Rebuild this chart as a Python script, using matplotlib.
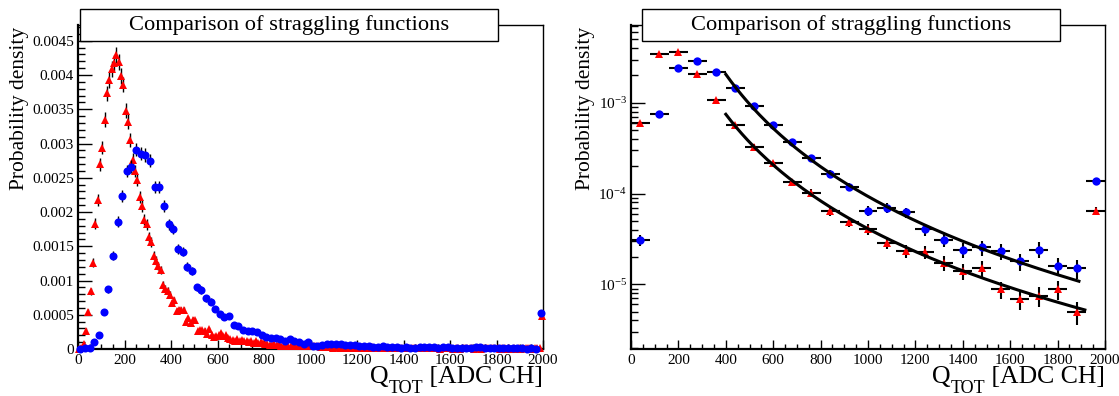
import matplotlib
matplotlib.use('Agg')
import matplotlib.pyplot as plt
import numpy as np
from matplotlib.patches import Rectangle
from matplotlib.ticker import MultipleLocator, FuncFormatter, LogLocator, NullFormatter

plt.rcParams['font.family'] = ['Liberation Serif', 'DejaVu Serif']
plt.rcParams['mathtext.fontset'] = 'custom'
plt.rcParams['mathtext.rm'] = 'Liberation Serif'
plt.rcParams['mathtext.it'] = 'Liberation Serif:italic'
plt.rcParams['mathtext.bf'] = 'Liberation Serif:bold'

# ---- fine binning: red 10 ADC bins, blue 20 ADC bins (density in units of 1e-4) ----
red_fine_centres = np.arange(5, 2000, 10)
red_fine_e4 = [
    0.0, 0.1, 0.7, 2.7, 5.4, 8.4, 12.6, 18.3,
    21.8, 27.0, 29.4, 33.5, 37.3, 39.3, 40.9, 41.8,
    42.9, 41.9, 39.9, 38.6, 34.8, 33.2, 30.5, 27.6,
    26.0, 24.7, 22.2, 20.9, 18.9, 18.2, 16.4, 15.6,
    13.6, 12.9, 12.1, 11.5, 9.4, 8.8, 8.5, 7.9,
    6.7, 7.1, 5.5, 5.7, 5.7, 5.7, 3.9, 4.5,
    3.8, 4.3, 4.2, 2.6, 2.8, 2.8, 2.7, 2.2,
    2.9, 2.0, 1.8, 1.9, 2.1, 2.3, 1.9, 2.0,
    1.6, 1.5, 1.3, 1.2, 1.4, 1.1, 1.3, 1.2,
    1.2, 1.0, 1.1, 0.9, 1.1, 0.9, 1.0, 0.9,
    0.7, 0.8, 0.6, 0.6, 0.7, 0.6, 0.6, 0.5,
    0.6, 0.5, 0.5, 0.4, 0.5, 0.5, 0.4, 0.5,
    0.5, 0.4, 0.4, 0.4, 0.4, 0.4, 0.4, 0.4,
    0.3, 0.3, 0.3, 0.3, 0.3, 0.2, 0.3, 0.3,
    0.2, 0.3, 0.2, 0.2, 0.3, 0.2, 0.2, 0.2,
    0.3, 0.2, 0.2, 0.3, 0.2, 0.2, 0.3, 0.2,
    0.2, 0.2, 0.1, 0.2, 0.2, 0.2, 0.1, 0.2,
    0.1, 0.2, 0.1, 0.2, 0.1, 0.1, 0.2, 0.1,
    0.2, 0.1, 0.2, 0.1, 0.2, 0.1, 0.2, 0.1,
    0.1, 0.1, 0.1, 0.0, 0.1, 0.1, 0.1, 0.1,
    0.1, 0.0, 0.1, 0.1, 0.0, 0.1, 0.1, 0.1,
    0.1, 0.1, 0.0, 0.1, 0.1, 0.0, 0.1, 0.1,
    0.1, 0.1, 0.1, 0.1, 0.1, 0.0, 0.1, 0.1,
    0.0, 0.1, 0.0, 0.1, 0.0, 0.1, 0.0, 0.1,
    0.1, 0.1, 0.1, 0.0, 0.1, 0.1, 0.1, 4.8,
]
blue_fine_centres = np.arange(10, 2000, 20)
blue_fine_e4 = [
    0.0, 0.1, 0.1, 1.0,
    2.1, 5.4, 8.7, 13.6,
    18.6, 22.3, 26.0, 26.6,
    29.1, 28.5, 28.3, 27.5,
    23.7, 23.6, 20.9, 18.2,
    17.5, 14.6, 14.2, 12.0,
    11.4, 9.0, 8.6, 7.4,
    6.9, 5.8, 5.1, 4.7,
    4.8, 3.5, 3.4, 2.8,
    2.6, 2.6, 2.5, 2.0,
    1.8, 1.6, 1.6, 1.5,
    1.1, 1.4, 1.2, 1.0,
    0.8, 1.0, 0.4, 0.4,
    0.6, 0.7, 0.8, 0.7,
    0.7, 0.6, 0.6, 0.6,
    0.4, 0.5, 0.4, 0.3,
    0.3, 0.4, 0.3, 0.25,
    0.3, 0.2, 0.25, 0.2,
    0.2, 0.3, 0.25, 0.27,
    0.25, 0.2, 0.25, 0.23,
    0.2, 0.15, 0.2, 0.17,
    0.2, 0.3, 0.25, 0.21,
    0.15, 0.2, 0.15, 0.14,
    0.15, 0.15, 0.14, 0.16,
    0.05, 0.1, 0.07, 5.3,
]
# statistical error scale: sigma = k * sqrt(density)
fine_err_scale = 0.00183

# ---- coarse binning, 80 ADC bins ----
coarse_centres = np.arange(40, 2000, 80)
coarse_halfwidth = 40
red_coarse = [6.0e-4, 3.43e-3, 3.65e-3, 2.07e-3, 1.07e-3, 5.67e-4, 3.28e-4, 2.15e-4,
              1.33e-4, 1.02e-4, 6.45e-5, 4.89e-5, 4.06e-5, 2.87e-5, 2.33e-5, 2.27e-5,
              1.73e-5, 1.41e-5, 1.52e-5, 8.8e-6, 6.9e-6, 7.5e-6, 8.8e-6, 4.94e-6, 6.45e-5]
blue_coarse = [3.08e-5, 7.5e-4, 2.39e-3, 2.88e-3, 2.19e-3, 1.46e-3, 9.2e-4, 5.67e-4,
               3.69e-4, 2.48e-4, 1.65e-4, 1.19e-4, 6.45e-5, 7.0e-5, 6.2e-5, 4.03e-5,
               3.1e-5, 2.41e-5, 2.55e-5, 2.33e-5, 1.79e-5, 2.41e-5, 1.59e-5, 1.5e-5, 1.38e-4]
red_coarse_relerr = [0.06, 0.02, 0.02, 0.03, 0.04, 0.05, 0.06, 0.07, 0.08, 0.10, 0.12, 0.13,
                     0.14, 0.15, 0.16, 0.17, 0.18, 0.20, 0.20, 0.22, 0.25, 0.25, 0.24, 0.28, 0.10]
blue_coarse_relerr = [0.15, 0.04, 0.03, 0.03, 0.03, 0.04, 0.05, 0.06, 0.07, 0.08, 0.09, 0.10,
                      0.13, 0.12, 0.13, 0.15, 0.17, 0.19, 0.19, 0.20, 0.22, 0.20, 0.23, 0.24, 0.08]

# power-law fits of the tails: f(x) = norm * (x / 400)^-index
blue_fit = dict(x0=400, x1=1890, norm=2.06e-3, index=3.38)
red_fit = dict(x0=400, x1=1915, norm=7.48e-4, index=3.17)

RED = '#ff0000'
BLUE = '#0000ff'
W, H = 1119, 396

fig = plt.figure(figsize=(W / 100, H / 100), dpi=100)
renderer = fig.canvas.get_renderer()


def px_axes(x0, y0, x1, y1):
    return fig.add_axes([x0 / W, 1 - y1 / H, (x1 - x0) / W, (y1 - y0) / H])


def title_box(x0, x1, y0=9, y1=41, text='Comparison of straggling functions'):
    fig.add_artist(Rectangle((x0 / W, 1 - y1 / H), (x1 - x0) / W, (y1 - y0) / H,
                             transform=fig.transFigure, facecolor='white',
                             edgecolor='black', lw=1.0, zorder=10))
    fig.text((x0 + x1) / 2 / W, 1 - (y0 + y1) / 2 / H, text, ha='center', va='center',
             fontsize=16.2, zorder=11)


def x_title(x_right, base=383, sub_base=393):
    # "Q" with a deeply lowered "TOT" subscript, then the unit, right-aligned
    unit = fig.text(x_right / W, 1 - base / H, ' [ADC CH]', ha='right', va='baseline',
                    fontsize=18.5)
    x = unit.get_window_extent(renderer).x0
    sub = fig.text(x / W, 1 - sub_base / H, 'TOT', ha='right', va='baseline', fontsize=13)
    x = sub.get_window_extent(renderer).x0
    fig.text(x / W, 1 - base / H, 'Q', ha='right', va='baseline', fontsize=18.5)


def style_axes(ax):
    for side in ('left', 'bottom'):
        ax.spines[side].set_linewidth(1.6)
    for side in ('top', 'right'):
        ax.spines[side].set_linewidth(1.0)
    ax.tick_params(which='both', direction='in', top=False, right=False,
                   labelsize=11, width=1.0)
    ax.tick_params(axis='x', which='major', length=6.5, pad=3.5)
    ax.tick_params(axis='x', which='minor', length=3.3)
    ax.tick_params(axis='y', which='major', length=10, pad=3)
    ax.tick_params(axis='y', which='minor', length=5)
    ax.set_xlim(0, 2000)
    ax.xaxis.set_major_locator(MultipleLocator(200))
    ax.xaxis.set_minor_locator(MultipleLocator(50))


# ---------------- left panel: linear scale ----------------
ax1 = px_axes(78, 25, 543, 349)
style_axes(ax1)
red_fine = np.array(red_fine_e4) * 1e-4
blue_fine = np.array(blue_fine_e4) * 1e-4
ax1.errorbar(red_fine_centres, red_fine, yerr=fine_err_scale * np.sqrt(red_fine),
             fmt='^', color=RED, ms=5.5, mew=0, ecolor='black', elinewidth=1.0,
             capsize=0, clip_on=False, zorder=3)
ax1.errorbar(blue_fine_centres, blue_fine, yerr=fine_err_scale * np.sqrt(blue_fine),
             fmt='o', color=BLUE, ms=5.8, mew=0, ecolor='black', elinewidth=1.0,
             capsize=0, clip_on=False, zorder=4)
ax1.set_ylim(0, 0.00473)
ax1.yaxis.set_major_locator(MultipleLocator(0.0005))
ax1.yaxis.set_minor_locator(MultipleLocator(0.0001))
ax1.yaxis.set_major_formatter(FuncFormatter(lambda v, p: '0' if abs(v) < 1e-12 else f'{v:g}'))
ax1.text(-0.125, 0.995, 'Probability density', transform=ax1.transAxes, rotation=90,
         ha='center', va='top', fontsize=15.5)

# ---------------- right panel: log scale ----------------
ax2 = px_axes(631, 25, 1105, 349)
style_axes(ax2)
ax2.set_yscale('log')
red_c = np.array(red_coarse)
blue_c = np.array(blue_coarse)
ax2.errorbar(coarse_centres, red_c, xerr=coarse_halfwidth,
             yerr=red_c * np.array(red_coarse_relerr),
             fmt='^', color=RED, ms=6, mew=0, ecolor='black', elinewidth=1.5,
             capsize=0, zorder=3)
ax2.errorbar(coarse_centres, blue_c, xerr=coarse_halfwidth,
             yerr=blue_c * np.array(blue_coarse_relerr),
             fmt='o', color=BLUE, ms=6, mew=0, ecolor='black', elinewidth=1.5,
             capsize=0, zorder=4)
for fit in (blue_fit, red_fit):
    xf = np.linspace(fit['x0'], fit['x1'], 200)
    ax2.plot(xf, fit['norm'] * (xf / 400.0) ** (-fit['index']), color='black', lw=2.2, zorder=5)
ax2.set_ylim(1.94e-6, 7.2e-3)
ax2.yaxis.set_major_locator(LogLocator(base=10))
ax2.yaxis.set_minor_locator(LogLocator(base=10, subs=np.arange(2, 10)))
ax2.yaxis.set_minor_formatter(NullFormatter())
ax2.text(-0.097, 0.995, 'Probability density', transform=ax2.transAxes, rotation=90,
         ha='center', va='top', fontsize=15.5)

title_box(80, 498)
title_box(642, 1060)
x_title(543)
x_title(1105)

fig.savefig('out.png', dpi=100)
